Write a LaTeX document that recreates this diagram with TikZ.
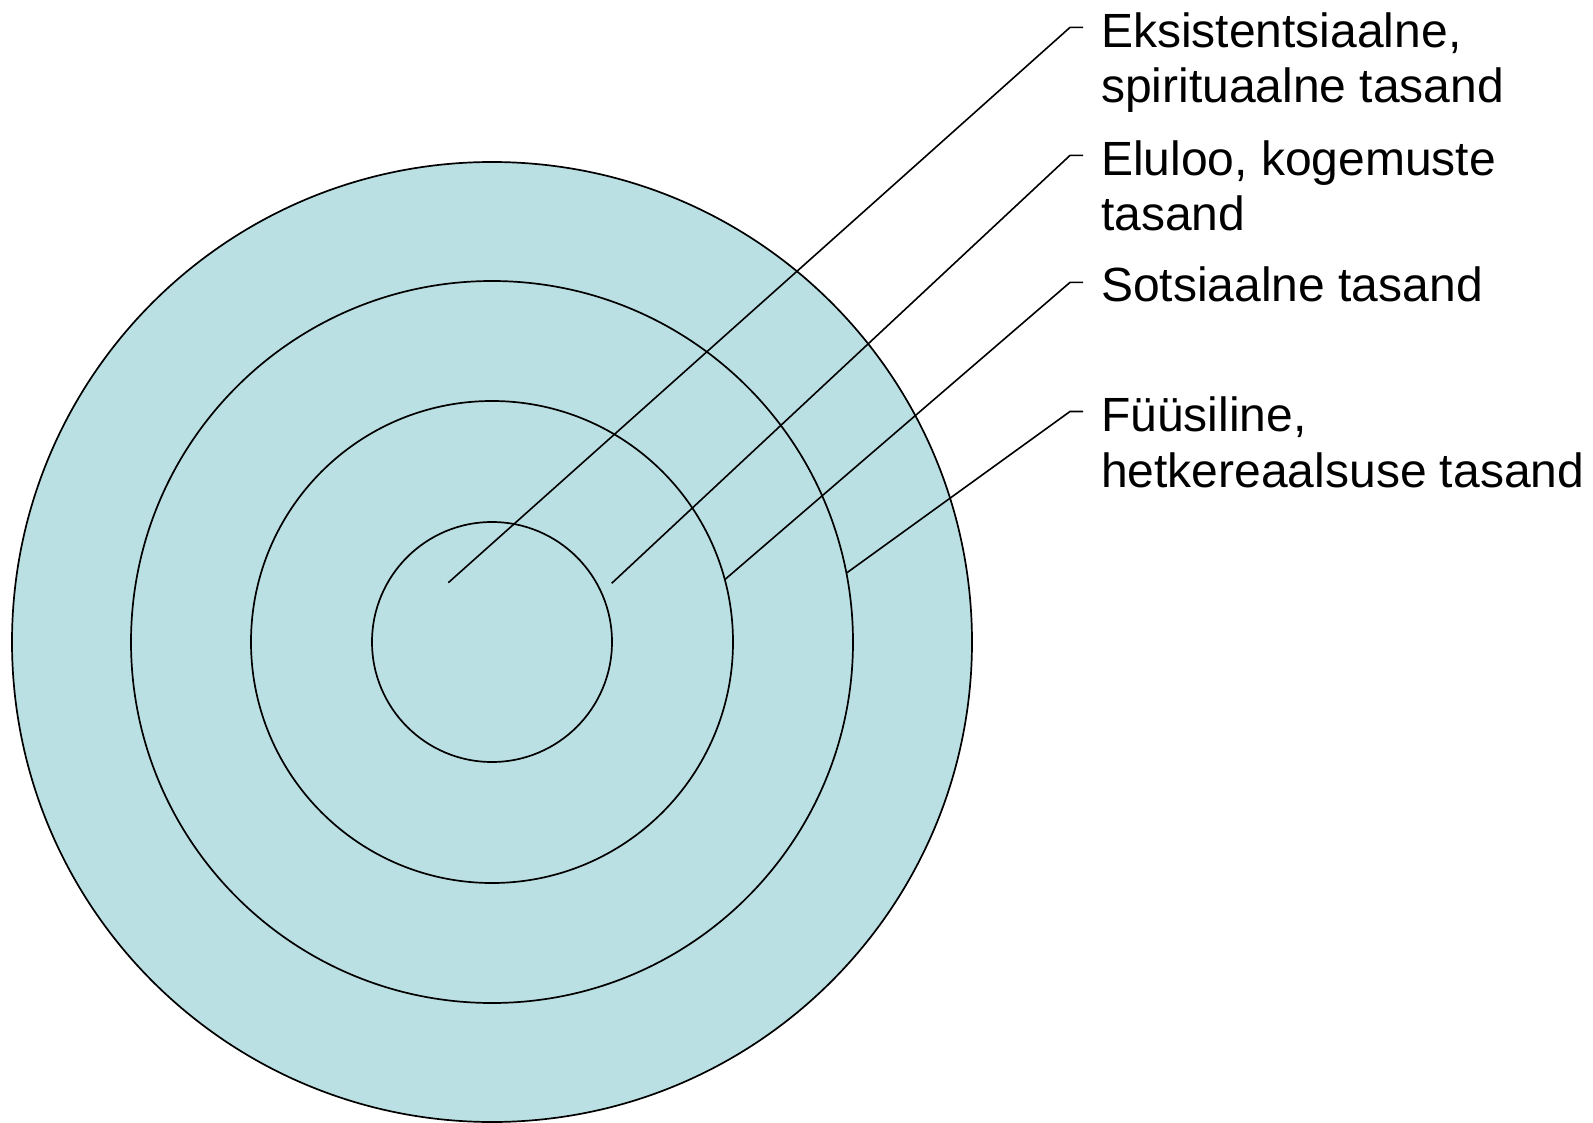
\documentclass[tikz,border=0pt]{standalone}
\usepackage{fontspec}
\setmainfont{Liberation Sans}
\definecolor{ringfill}{RGB}{187,224,227}
\begin{document}
\begin{tikzpicture}[x=1pt,y=-1pt,
  ring/.style={circle,draw=black,fill=ringfill,line width=1.7pt,inner sep=0pt,outer sep=0pt},
  lbl/.style={anchor=base west,align=left,inner sep=0pt,font=\fontsize{48}{55.5}\selectfont},
  leader/.style={draw=black,line width=1.6pt}]
\useasboundingbox (0,0) rectangle (1593,1123);
% concentric rings
\node[ring,minimum size=960pt] (c4) at (492,642) {};
\node[ring,minimum size=722pt] (c3) at (492,642) {};
\node[ring,minimum size=482pt] (c2) at (492,642) {};
\node[ring,minimum size=240pt] (c1) at (492,642) {};
% labels (base anchor = baseline of the last line)
\node[lbl] (t1) at (1101,103) {Eksistentsiaalne,\\spirituaalne tasand};
\node[lbl] (t2) at (1101,231) {Eluloo, kogemuste\\tasand};
\node[lbl] (t3) at (1101,301.5) {Sotsiaalne tasand};
\node[lbl] (t4) at (1101,487) {Füüsiline,\\hetkereaalsuse tasand};
% leader points
\coordinate (p1) at (448.3,582.7);
\coordinate (p2) at (611.7,583.3);
\coordinate (k1) at (1070,27.4);   \coordinate (e1) at (1083,27.4);
\coordinate (k2) at (1070,155.4);  \coordinate (e2) at (1083,155.4);
\coordinate (k3) at (1070,282.4);  \coordinate (e3) at (1083,282.4);
\coordinate (k4) at (1070,411.5);  \coordinate (e4) at (1083,411.5);
% leaders
\draw[leader] (p1) -- (k1) -- (e1);
\draw[leader] (p2) -- (k2) -- (e2);
\draw[leader] (c2.15) -- (k3) -- (e3);
\draw[leader] (c3.11.3) -- (k4) -- (e4);
\end{tikzpicture}
\end{document}
